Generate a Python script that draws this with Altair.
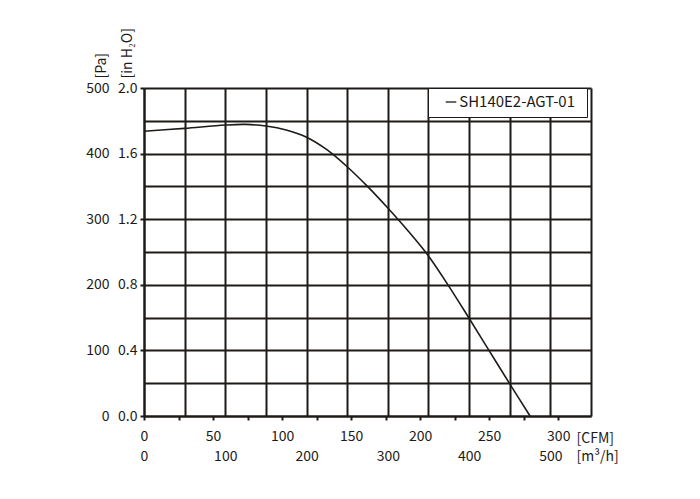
import altair as alt
import pandas as pd

# ---- data ----
airflow_m3h = [0, 50, 100, 125, 150, 175, 200, 225, 250, 275, 300, 325, 350, 375, 400, 425, 450, 475]
pressure_pa = [434, 438.5, 443.5, 444.5, 442, 436, 425, 406, 380, 350, 317, 282, 244, 198, 149, 99, 49, 0]
series_name = "SH140E2-AGT-01"

m3h_grid = list(range(0, 551, 50))
pa_grid = list(range(0, 501, 50))
cfm_ticks = list(range(0, 301, 25))
inh2o_ticks = [0.0, 0.4, 0.8, 1.2, 1.6, 2.0]

CFM_PER_M3H = 1.699
PA_PER_INH2O = 250.0

df = pd.DataFrame({"m3h": airflow_m3h, "pa": pressure_pa, "series": [series_name] * len(airflow_m3h)})

INK = "#1e1a18"
FONT = "Noto Sans CJK SC"

base = alt.Chart(df)

main = base.mark_line(interpolate="catmull-rom", strokeWidth=1.6).encode(
    x=alt.X("m3h:Q",
            scale=alt.Scale(domain=[0, 550], nice=False, zero=True),
            axis=alt.Axis(values=m3h_grid, grid=True, ticks=False, labelFlush=False,
                          labelExpr="datum.value % 100 == 0 ? datum.label : ''",
                          labelPadding=33, labelBaseline="top",
                          title="[m³/h]", titleX=432, titleY=44.5, titleAngle=0,
                          titleAlign="left", titleBaseline="alphabetic")),
    y=alt.Y("pa:Q",
            scale=alt.Scale(domain=[0, 500], nice=False, zero=True),
            axis=alt.Axis(values=pa_grid, grid=True, ticks=False, labelFlush=False,
                          labelExpr="datum.value % 100 == 0 ? datum.label : ''",
                          labelPadding=35,
                          title="[Pa]", titleX=-43, titleY=-10, titleAngle=270,
                          titleAlign="left", titleBaseline="middle")),
    color=alt.Color("series:N", scale=alt.Scale(range=[INK]),
                    legend=alt.Legend(title="\u2002", titleOrient="right", titlePadding=6,
                                      titleFontSize=11,
                                      orient="none", legendX=284, legendY=0,
                                      fillColor="white", strokeColor=INK, padding=6.5,
                                      symbolType="stroke", symbolSize=112, symbolStrokeWidth=1.3,
                                      symbolOffset=9, labelOffset=0.7, labelFontSize=15,
                                      labelColor=INK, labelFont=FONT)),
)

conv = base.transform_calculate(
    cfm=f"datum.m3h / {CFM_PER_M3H}", inh2o=f"datum.pa / {PA_PER_INH2O}"
).mark_line(interpolate="catmull-rom", strokeOpacity=0).encode(
    x=alt.X("cfm:Q",
            scale=alt.Scale(domain=[0, 550 / CFM_PER_M3H], nice=False, zero=True),
            axis=alt.Axis(orient="bottom", values=cfm_ticks, grid=False, ticks=True, tickSize=4,
                          labelFlush=False,
                          labelExpr="datum.value % 50 == 0 ? datum.label : ''",
                          labelPadding=9, labelBaseline="top", domain=False,
                          title="[CFM]", titleX=432, titleY=26, titleAngle=0,
                          titleAlign="left", titleBaseline="alphabetic")),
    y=alt.Y("inh2o:Q",
            scale=alt.Scale(domain=[0, 2.0], nice=False, zero=True),
            axis=alt.Axis(orient="left", values=inh2o_ticks, format=".1f", grid=False,
                          ticks=True, tickSize=4, labelPadding=3, domain=False, labelFlush=False,
                          title="[in H₂O]", titleX=-17, titleY=-10, titleAngle=270,
                          titleAlign="left", titleBaseline="middle")),
)

chart = alt.layer(main, conv).resolve_scale(x="independent", y="independent").properties(
    width=447, height=328,
    autosize=alt.AutoSizeParams(type="none"),
    padding={"left": 136, "top": 80, "right": 95, "bottom": 60},
).configure_view(stroke=None).configure_axis(
    domainColor=INK, domainWidth=2, tickColor=INK, tickWidth=2,
    gridColor=INK, gridWidth=2, gridOpacity=1,
    labelFont=FONT, labelFontSize=14, labelColor=INK,
    titleFont=FONT, titleFontSize=14, titleColor=INK, titleFontWeight="normal",
)

chart.save("out.html", embed_options={"renderer": "svg", "actions": False})
